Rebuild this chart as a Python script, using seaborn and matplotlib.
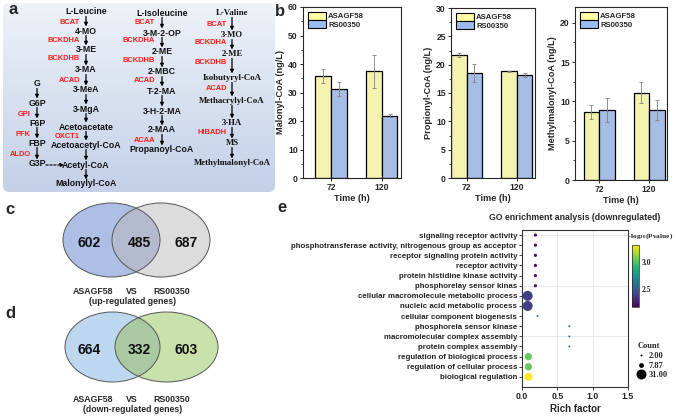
import matplotlib
matplotlib.use("Agg")
import matplotlib.pyplot as plt
from matplotlib.patches import Ellipse, FancyBboxPatch, Patch
from matplotlib.lines import Line2D
from matplotlib.colors import LinearSegmentedColormap, Normalize
from matplotlib.ticker import AutoMinorLocator, MultipleLocator
import matplotlib.cm as cm
import numpy as np
import pandas as pd
import seaborn as sns

# ---------------- data ----------------
times = ["72", "120"]
strains = ["ASAGF58", "RS00350"]

malonyl_asagf = [35.9, 37.4]
malonyl_asagf_err = [2.4, 5.7]
malonyl_rs = [31.3, 21.8]
malonyl_rs_err = [2.4, 0.5]

propionyl_asagf = [21.7, 18.8]
propionyl_asagf_err = [0.3, 0.15]
propionyl_rs = [18.6, 18.2]
propionyl_rs_err = [1.6, 0.35]

methyl_asagf = [8.7, 11.1]
methyl_asagf_err = [0.9, 1.3]
methyl_rs = [8.9, 8.9]
methyl_rs_err = [1.5, 1.25]

up_counts = [602, 485, 687]
down_counts = [664, 332, 603]

go_terms = [
    "signaling receptor activity",
    "phosphotransferase activity, nitrogenous group as acceptor",
    "receptor signaling protein activity",
    "receptor activity",
    "protein histidine kinase activity",
    "phosphorelay sensor kinas",
    "cellular macromolecule metabolic process",
    "nucleic acid metabolic process",
    "cellular component biogenesis",
    "phosphorela sensor kinase",
    "macromolecular complex assembly",
    "protein complex assembly",
    "regulation of biological process",
    "regulation of cellular process",
    "biological regulation",
]
rich_factor = [0.19, 0.19, 0.19, 0.19, 0.19, 0.19, 0.08, 0.08, 0.22,
               0.67, 0.67, 0.67, 0.09, 0.09, 0.09]
gene_count = [4, 4, 4, 4, 4, 4, 31, 31, 2, 2, 2, 2, 17, 17, 20]
neg_log_p = [2.21, 2.21, 2.21, 2.21, 2.21, 2.21, 2.38, 2.38, 2.56,
             2.6, 2.6, 2.6, 3.05, 3.05, 3.33]

# pathway text (panel a)
leu_names = ["L-Leucine", "4-MO", "3-ME", "3-MA", "3-MeA", "3-MgA",
             "Acetoacetate", "Acetoacetyl-CoA", "Acetyl-CoA", "Malonylyl-CoA"]
leu_y = [12, 31, 50, 70, 90, 109, 127, 145, 165, 184]
leu_enz = ["BCAT", "BCKDHA", "BCKDHB", "ACAD", "OXCT1"]
leu_enz_y = [22, 40, 59, 80, 137]

glu_names = ["G", "G6P", "F6P", "FBP", "G3P"]
glu_y = [84, 103, 123, 143, 164]
glu_enz = ["GPI", "PFK", "ALDO"]
glu_enz_y = [114, 134, 154]

ile_names = ["L-Isoleucine", "3-M-2-OP", "2-ME", "2-MBC", "T-2-MA",
             "3-H-2-MA", "2-MAA", "Propanoyl-CoA"]
ile_y = [13, 33, 52, 72, 91, 111, 130, 150]
ile_enz = ["BCAT", "BCKDHA", "BCKDHB", "ACAD", "ACAA"]
ile_enz_y = [23, 41, 60, 81, 141]

val_names = ["L-Valine", "3-MO", "2-ME", "Isobutyryl-CoA", "Methacrylyl-CoA",
             "3-HA", "MS", "Methylmalonyl-CoA"]
val_y = [13, 35, 54, 78, 101, 123, 143, 163]
val_enz = ["BCAT", "BCKDHA", "BCKDHB", "ACAD", "HIBADH"]
val_enz_y = [24, 43, 62, 89, 132]

# ---------------- style ----------------
sns.set_style("ticks")
plt.rcParams['font.family'] = ['Liberation Sans', 'DejaVu Sans']
plt.rcParams['font.weight'] = 'bold'
plt.rcParams['axes.labelweight'] = 'bold'
plt.rcParams['mathtext.default'] = 'regular'

W, H = 676, 418
YELLOW = "#FFFFA3"
BLUE = "#9BBAF0"
RED = "#FF1A1A"
SERIF = ['Liberation Serif', 'DejaVu Serif']


def box(l, t, r, b):
    return [l / W, 1 - b / H, (r - l) / W, (b - t) / H]


fig = plt.figure(figsize=(W / 100, H / 100), dpi=100)

# overlay axes in pixel coordinates (panel a, venns, labels)
ax0 = fig.add_axes([0, 0, 1, 1])
grad = np.linspace(0, 1, 256).reshape(-1, 1)
bg_cmap = LinearSegmentedColormap.from_list("bg", ["#eef2f8", "#c3d0e8"])
im = ax0.imshow(grad, extent=(3, 275, 192, 3), cmap=bg_cmap, aspect='auto', zorder=0)
bg = FancyBboxPatch((3, 3), 272, 189, boxstyle="round,pad=0,rounding_size=6",
                    fc='none', ec='none')
ax0.add_patch(bg)
im.set_clip_path(bg)
ax0.set_xlim(0, W)
ax0.set_ylim(H, 0)
ax0.axis('off')


def down_arrow(x, y0, y1, ls='-'):
    ax0.annotate('', xy=(x, y1), xytext=(x, y0),
                 arrowprops=dict(arrowstyle='-|>', color='k', lw=0.9, ls=ls,
                                 mutation_scale=5, shrinkA=0, shrinkB=0))


def column(names, ys, x, enz, enz_y, enz_x, family=None):
    fam = family if family else plt.rcParams['font.family']
    for n, y in zip(names, ys):
        ax0.text(x, y, n, ha='center', va='center', fontsize=6.3, family=fam,
                 weight='bold', color='#111111')
    for y0, y1 in zip(ys[:-1], ys[1:]):
        down_arrow(x, y0 + 4.5, y1 - 4.5)
    for e, y in zip(enz, enz_y):
        ax0.text(enz_x, y, e, ha='right', va='center', fontsize=5.4,
                 color=RED, weight='bold')


column(leu_names, leu_y, 86, leu_enz, leu_enz_y, 80)
column(glu_names, glu_y, 37, glu_enz, glu_enz_y, 31)
column(ile_names, ile_y, 162, ile_enz, ile_enz_y, 155)
column(val_names, val_y, 232, val_enz, val_enz_y, 227, family=SERIF)
ax0.annotate('', xy=(64, 165), xytext=(46, 165),
             arrowprops=dict(arrowstyle='-|>', color='k', lw=0.8, ls=(0, (2, 1.5)),
                             mutation_scale=5, shrinkA=0, shrinkB=0))


# venn diagrams
def venn(cl, cr, cy, wl, wr, h, col_l, col_r, col_m, counts, label_y, caption):
    e1 = Ellipse((cl, cy), wl, h, fc=col_l, ec='none')
    e2 = Ellipse((cr, cy), wr, h, fc=col_r, ec='none')
    e3 = Ellipse((cr, cy), wr, h, fc=col_m, ec='none')
    for e in (e1, e2, e3):
        ax0.add_patch(e)
    e3.set_clip_path(e1)
    for c, w in ((cl, wl), (cr, wr)):
        ax0.add_patch(Ellipse((c, cy), w, h, fc='none', ec='#555555', lw=0.7))
    for x, n in zip([89, 139, 186], counts):
        ax0.text(x, cy + 3, str(n), ha='center', va='center', fontsize=10,
                 weight='bold', color='#111111')
    for x, t in zip([93, 132, 172], ["ASAGF58", "VS", "RS00350"]):
        ax0.text(x, label_y, t, ha='center', va='center', fontsize=6.3, weight='bold')
    ax0.text(133, label_y + 10, caption, ha='center', va='center', fontsize=6.3,
             weight='bold')


venn(111.5, 161, 240, 97, 98, 74, "#AEBFE5", "#DCDCDC", "#B4BACD",
     up_counts, 291, "(up-regulated genes)")
venn(112.5, 166.5, 347, 95, 103, 70, "#BDD7EE", "#C9E1AA", "#A9C9A2",
     down_counts, 400, "(down-regulated genes)")

for lbl, (x, y) in zip("abcde", [(13, 9), (280, 11), (10, 210), (10, 313), (282, 208)]):
    ax0.text(x, y, lbl, ha='center', va='center', fontsize=12, weight='bold')

# ---------------- panel b ----------------
bar_specs = [
    ("Malonyl-CoA (ng/L)", malonyl_asagf, malonyl_rs, malonyl_asagf_err, malonyl_rs_err,
     (303, 7, 401, 178), (-0.55, 1.38), 60, 10),
    ("Propionyl-CoA (ng/L)", propionyl_asagf, propionyl_rs, propionyl_asagf_err, propionyl_rs_err,
     (451, 8, 535, 178), (-0.31, 1.36), 30, 5),
    ("Methylmalonyl-CoA (ng/L)", methyl_asagf, methyl_rs, methyl_asagf_err, methyl_rs_err,
     (575, 7, 667, 180), (-0.48, 1.36), 22, 5),
]

for ylab, a_vals, r_vals, a_err, r_err, pos, xl, ymax, step in bar_specs:
    ax = fig.add_axes(box(*pos))
    df = pd.DataFrame({
        "time": times * 2,
        "strain": [strains[0]] * 2 + [strains[1]] * 2,
        "value": a_vals + r_vals,
    })
    sns.barplot(data=df, x="time", y="value", hue="strain", order=times,
                hue_order=strains, palette=[YELLOW, BLUE], errorbar=None,
                width=0.62, edgecolor='black', linewidth=0.9, legend=False, ax=ax)
    errs = a_err + r_err
    for p, e in zip(ax.patches, errs):
        ax.errorbar(p.get_x() + p.get_width() / 2, p.get_height(), yerr=e,
                    fmt='none', ecolor='#808080', elinewidth=0.6, capsize=1.3,
                    capthick=0.6)
    ax.set_xlim(*xl)
    ax.set_ylim(0, ymax)
    ax.yaxis.set_major_locator(MultipleLocator(step))
    ax.yaxis.set_minor_locator(AutoMinorLocator(2))
    ax.tick_params(axis='both', which='major', direction='out', length=2.5,
                   width=0.7, labelsize=6.2, pad=1.2)
    ax.tick_params(axis='y', which='minor', direction='out', length=1.4, width=0.6)
    for lab in ax.get_xticklabels() + ax.get_yticklabels():
        lab.set_fontweight('bold')
    for s in ax.spines.values():
        s.set_linewidth(0.8)
    ax.set_ylabel(ylab, fontsize=6.6, labelpad=2)
    ax.set_xlabel("Time (h)", fontsize=6.6, labelpad=1.5)
    handles = [Patch(fc=YELLOW, ec='black', lw=0.8, label=strains[0]),
               Patch(fc=BLUE, ec='black', lw=0.8, label=strains[1])]
    ax.legend(handles=handles, loc='upper left', frameon=False, handlelength=2.3,
              handleheight=1.1, labelspacing=0.0, handletextpad=0.3,
              borderaxespad=0.25, prop=dict(weight='bold', size=5.6))

# ---------------- panel e ----------------
go_df = pd.DataFrame({"term": go_terms, "rich": rich_factor,
                      "count": gene_count, "logp": neg_log_p})
norm = Normalize(2.15, 3.33)
axe = fig.add_axes(box(522, 230, 628, 387))
for yv in [0, 5, 10]:
    axe.axhline(yv, color='#e4e4e4', lw=0.6, zorder=0)
for xv in [0.5, 1.0]:
    axe.axvline(xv, color='#e4e4e4', lw=0.6, zorder=0)
sns.scatterplot(data=go_df, x="rich", y="term", hue="logp", size="count",
                palette="viridis", hue_norm=norm, sizes=(2, 52), size_norm=(2, 31),
                linewidth=0, legend=False, ax=axe, zorder=3)
axe.set_yticks(range(len(go_terms)))
axe.set_yticklabels(go_terms)
axe.set_ylim(15.0, -0.5)
axe.set_xlim(0, 1.5)
axe.set_xticks([0.0, 0.5, 1.0, 1.5])
axe.set_xticklabels(["0.0", "0.5", "1.0", "1.5"])
axe.tick_params(axis='y', direction='out', length=2, width=0.6, labelsize=5.7, pad=1.5)
axe.tick_params(axis='x', direction='out', length=2, width=0.6, labelsize=6.3, pad=1.5)
for lab in axe.get_xticklabels() + axe.get_yticklabels():
    lab.set_fontweight('bold')
    lab.set_color('#222222')
for s in axe.spines.values():
    s.set_linewidth(0.8)
    s.set_color('#333333')
axe.set_ylabel("")
axe.set_xlabel("Rich factor", fontsize=7, labelpad=2)
fig.text(575 / W, 1 - 217 / H, "GO enrichment analysis (downregulated)",
         ha='center', va='center', fontsize=6.3, weight='bold')

# colorbar
cax = fig.add_axes(box(632, 245, 639, 307))
cb = fig.colorbar(cm.ScalarMappable(norm=norm, cmap='viridis'), cax=cax)
cb.set_ticks([2.5, 3.0])
cb.ax.tick_params(direction='in', length=2, width=0.6, color='#333333', labelsize=5.5, pad=2)
for lab in cb.ax.get_yticklabels():
    lab.set_family(SERIF)
    lab.set_fontweight('bold')
cb.outline.set_linewidth(0.5)
fig.text(628 / W, 1 - 236 / H, "-log$_{10}$(Pvalue)", ha='left', va='center',
         fontsize=5.3, family=SERIF, weight='bold')

# size legend
legend_counts = [2.00, 7.87, 31.00]
size_handles = [Line2D([], [], marker='o', ls='', color='black', mec='none',
                       markersize=np.sqrt(2 + (c - 2) / 29 * 50)) for c in legend_counts]
fig.legend(size_handles, [f"{c:.2f}" for c in legend_counts], title="Count",
           loc='upper left', bbox_to_anchor=(633 / W, 1 - 338 / H), frameon=False,
           prop={'family': SERIF, 'weight': 'bold', 'size': 6},
           title_fontproperties={'family': SERIF, 'weight': 'bold', 'size': 6},
           handletextpad=0.4, labelspacing=0.2, borderpad=0, handlelength=1.0,
           alignment='left')

fig.savefig("out.png", dpi=100, facecolor='white')
